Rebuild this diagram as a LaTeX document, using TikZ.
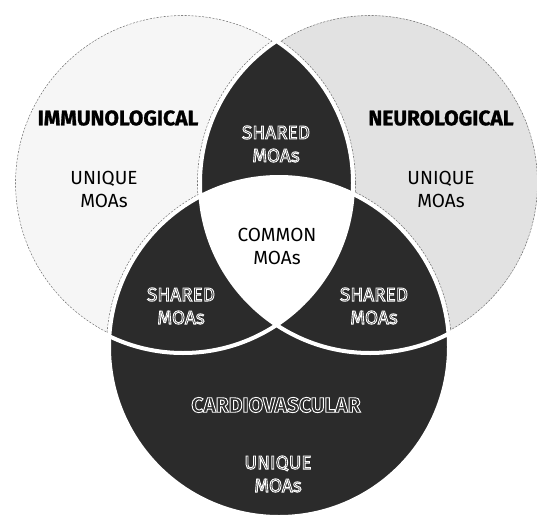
\documentclass[tikz,border=0pt]{standalone}
\usepackage{fontspec}
\setmainfont{Fira Sans}
\newfontfamily\heavyfont[BoldFeatures={FakeBold=1.3}]{Fira Sans}
\definecolor{darkfill}{gray}{0.17}
\definecolor{lightA}{gray}{0.965}
\definecolor{lightB}{gray}{0.885}
\newcommand{\outl}[1]{\leavevmode\special{pdf:literal direct 1 Tr 1 1 1 RG 0.9 w}#1\special{pdf:literal direct 0 Tr}}
\tikzset{
  lbl/.style={font=\fontsize{19}{23}\selectfont, align=center, inner sep=0pt},
  head/.style={font=\heavyfont\bfseries\fontsize{21}{25}\selectfont, inner sep=0pt},
  headd/.style={font=\bfseries\fontsize{21}{25}\selectfont, inner sep=0pt},
  rim/.style={draw=black!55, line width=0.6pt, dash pattern=on 2pt off 1.5pt},
  gap/.style={draw=white, line width=4pt},
}
\begin{document}
\begin{tikzpicture}[x=1pt,y=-1pt]
\useasboundingbox (0,0) rectangle (537,527);
\def\R{170}
\def\Ri{167.5}
\def\Ro{172.5}
\coordinate (ca) at (183,183);
\coordinate (cb) at (370,183);
\coordinate (cc) at (279,347);
% light fills
\fill[lightA] (ca) circle[radius=\R];
\fill[lightB] (cb) circle[radius=\R];
% dashed rims
\draw[rim] (ca) circle[radius=\Ri];
\draw[rim] (cb) circle[radius=\Ri];
\begin{scope}
  \clip (ca) circle[radius=\R];
  \draw[rim] (cb) circle[radius=\Ro];
  \draw[rim] (cc) circle[radius=\Ro];
\end{scope}
\begin{scope}
  \clip (cb) circle[radius=\R];
  \draw[rim] (ca) circle[radius=\Ro];
  \draw[rim] (cc) circle[radius=\Ro];
\end{scope}
% dark fills
\fill[darkfill] (cc) circle[radius=\R];
\begin{scope}
  \clip (ca) circle[radius=\R];
  \fill[darkfill] (cb) circle[radius=\R];
  \clip (cb) circle[radius=\R];
  \fill[white] (cc) circle[radius=\R];
\end{scope}
% white gaps
\draw[gap] (ca) circle[radius=\R];
\draw[gap] (cb) circle[radius=\R];
\draw[gap] (cc) circle[radius=\R];
% labels
\node[head] (immuno) at (118,118) {IMMUNOLOGICAL};
\node[head] (neuro) at (441,118) {NEUROLOGICAL};
\node[lbl] (uniA) at (104,189) {UNIQUE\\MOAs};
\node[lbl] (uniB) at (441,189) {UNIQUE\\MOAs};
\node[lbl] (common) at (277,246) {COMMON\\MOAs};
\node[lbl] (shAB) at (276,144) {\outl{SHARED}\\\outl{MOAs}};
\node[lbl] (shAC) at (181,306) {\outl{SHARED}\\\outl{MOAs}};
\node[lbl] (shBC) at (374,306) {\outl{SHARED}\\\outl{MOAs}};
\node[headd] (cardio) at (276,405) {\outl{CARDIOVASCULAR}};
\node[lbl] (uniC) at (278,474) {\outl{UNIQUE}\\\outl{MOAs}};
\end{tikzpicture}
\end{document}
